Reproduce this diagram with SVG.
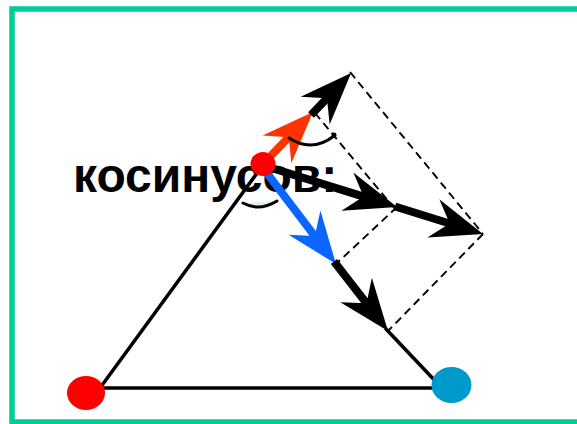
<svg xmlns="http://www.w3.org/2000/svg" width="577" height="424" viewBox="0 0 577 424">
<style>
.frame{fill:none;stroke:#00CC99;stroke-width:5.5}
.side{fill:none;stroke:#000;stroke-width:3.5;stroke-linecap:round}
.dash{fill:none;stroke:#000;stroke-width:1.9;stroke-dasharray:8 5}
.vec{fill:none;stroke-width:8}
.arc{fill:none;stroke:#000;stroke-width:3;stroke-linecap:round}
.label{font-family:"Liberation Sans",Arial,sans-serif;font-weight:bold;font-size:48px;fill:#000}
</style>
<defs>
<marker id="hk" markerUnits="userSpaceOnUse" markerWidth="56" markerHeight="44" viewBox="0 -22 56 44" refX="22" refY="0" orient="auto" overflow="visible">
<path d="M0,-20 L52,0 L0,20 L17,0 Z" fill="#000"/>
</marker>
<marker id="hr" markerUnits="userSpaceOnUse" markerWidth="56" markerHeight="44" viewBox="0 -22 56 44" refX="22" refY="0" orient="auto" overflow="visible">
<path d="M0,-20 L52,0 L0,20 L17,0 Z" fill="#FF3300"/>
</marker>
<marker id="hb" markerUnits="userSpaceOnUse" markerWidth="56" markerHeight="44" viewBox="0 -22 56 44" refX="22" refY="0" orient="auto" overflow="visible">
<path d="M0,-20 L52,0 L0,20 L17,0 Z" fill="#0A66FF"/>
</marker>
</defs>
<rect class="frame" x="12" y="9" width="620" height="413"/>
<text class="label" x="73" y="192">косинусов:</text>
<g id="connectors">
<line class="side" x1="100" y1="388" x2="263" y2="165"/>
<line class="side" x1="100" y1="388" x2="440" y2="388"/>
<line class="side" x1="386" y1="329" x2="440" y2="386"/>
<line class="dash" x1="350" y1="72" x2="483" y2="234"/>
<line class="dash" x1="315" y1="113" x2="395" y2="209"/>
<line class="dash" x1="397" y1="207" x2="336" y2="264"/>
<line class="dash" x1="483" y1="234" x2="388" y2="331"/>
<path class="vec" stroke="#FF3300" d="M263,164 L292.2,133.6" marker-end="url(#hr)"/>
<path class="vec" stroke="#000" d="M311,115 L330.4,94.7" marker-end="url(#hk)"/>
<path class="vec" stroke="#000" d="M262,165 L368.4,198.1" marker-end="url(#hk)"/>
<path class="vec" stroke="#000" d="M395,206.5 L454.4,225" marker-end="url(#hk)"/>
<path class="vec" stroke="#0A66FF" d="M263,168 L317.8,240.1" marker-end="url(#hb)"/>
<path class="vec" stroke="#000" d="M334,261.5 L369.6,307.3" marker-end="url(#hk)"/>
<path class="arc" d="M289,138 Q312,153 334,136"/>
<circle cx="334" cy="135" r="2.5" fill="#000"/>
<path class="arc" d="M243,203 Q259,212 277,201" style="fill:#dff0f4"/>
</g>
<g id="apex"><ellipse cx="263" cy="164" rx="12.5" ry="12" fill="#FF0000"/></g>
<g id="left"><ellipse cx="86" cy="393" rx="19" ry="17" fill="#FF0000"/></g>
<g id="right"><ellipse cx="451.5" cy="385" rx="20" ry="18" fill="#0099CC"/></g>
</svg>
